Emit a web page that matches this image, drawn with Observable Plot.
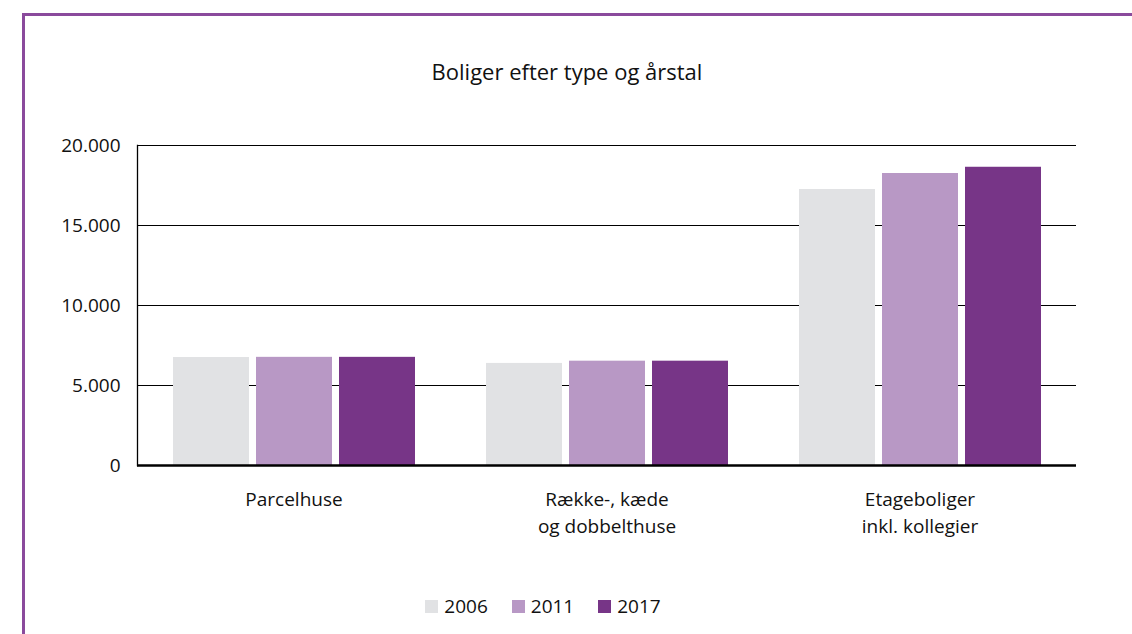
<!DOCTYPE html>
<html><head><meta charset="utf-8">
<script src="https://cdn.jsdelivr.net/npm/d3@7"></script>
<script src="https://cdn.jsdelivr.net/npm/@observablehq/plot@0.6"></script>
<style>
body{margin:0;background:#fff;font-family:"Open Sans",sans-serif;color:#111;}
#wrap{position:relative;width:1132px;height:634px;overflow:hidden;background:#fff;}
#border{position:absolute;left:22px;top:13px;right:-10px;bottom:-10px;border-top:3px solid #8a4a9c;border-left:3px solid #8a4a9c;}
#title{position:absolute;top:56px;left:0;width:1134px;text-align:center;font-size:22px;color:#111;}
#chart{position:absolute;left:0;top:100px;}
#legend{position:absolute;top:593px;left:0;width:1086px;display:flex;justify-content:center;gap:24px;font-size:19px;}
#legend .it{display:flex;align-items:center;gap:6px;}
#legend .sw{width:13px;height:13px;display:inline-block;}
</style></head>
<body>
<div id="wrap">
  <div id="border"></div>
  <div id="title">Boliger efter type og årstal</div>
  <div id="chart"></div>
  <div id="legend"></div>
</div>
<script>
const categories = ["Parcelhuse", "Række-, kæde\nog dobbelthuse", "Etageboliger\ninkl. kollegier"];
const years = ["2006", "2011", "2017"];
const values2006 = [6750, 6380, 17250];
const values2011 = [6760, 6520, 18250];
const values2017 = [6760, 6520, 18640];
const yTicks = [0, 5000, 10000, 15000, 20000];
const colors = ["#e1e2e4", "#b898c5", "#773587"];

const series = [values2006, values2011, values2017];
const data = [];
categories.forEach((c, i) => years.forEach((y, j) => data.push({type: c, year: y, value: series[j][i]})));

const fmt = d3.formatLocale({decimal: ",", thousands: ".", grouping: [3], currency: ["", ""]}).format(",");

const chart = Plot.plot({
  width: 1132, height: 450,
  marginLeft: 137, marginRight: 56, marginTop: 45, marginBottom: 85,
  style: {fontFamily: "'Open Sans', sans-serif", color: "#111", background: "transparent", overflow: "visible"},
  fx: {domain: categories, padding: 0, axis: null},
  x: {domain: years, paddingInner: 0.09, paddingOuter: 0.42, axis: null},
  y: {domain: [0, 20000], axis: null},
  color: {domain: years, range: colors},
  marks: [
    Plot.ruleY(yTicks.filter(t => t > 0), {stroke: "#000", strokeWidth: 1.2}),
    Plot.barY(data, {fx: "type", x: "year", y: "value", fill: "year"}),
    Plot.ruleY([0], {stroke: "#000", strokeWidth: 2.5}),
    Plot.frame({anchor: "left", facetAnchor: "left", stroke: "#000", strokeWidth: 1.3}),
    Plot.axisY({ticks: yTicks, tickSize: 0, tickPadding: 17, tickFormat: fmt, fontSize: 19, anchor: "left", label: null}),
    Plot.axisFx({tickSize: 0, tickPadding: 21, fontSize: 19, lineHeight: 1.42, anchor: "bottom", label: null})
  ]
});
document.getElementById("chart").appendChild(chart);

const legend = document.getElementById("legend");
years.forEach((y, i) => {
  const it = document.createElement("div");
  it.className = "it";
  it.innerHTML = `<span class="sw" style="background:${colors[i]}"></span><span>${y}</span>`;
  legend.appendChild(it);
});
</script>
</body></html>
